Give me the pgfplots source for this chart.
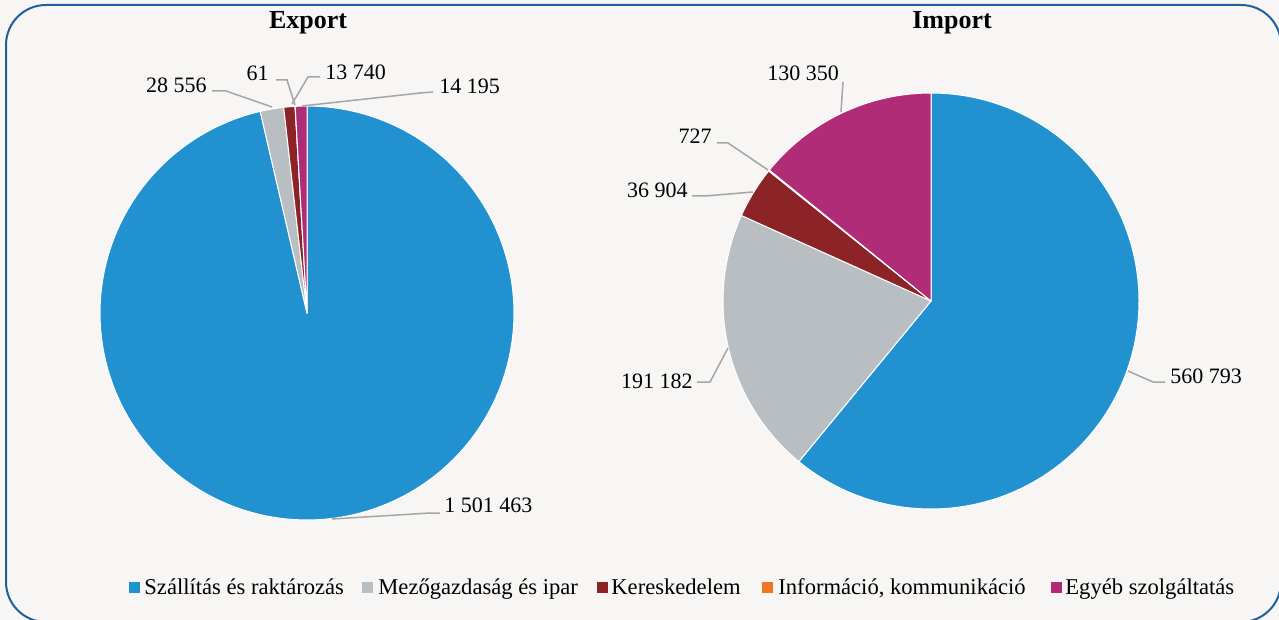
\documentclass[border=0pt]{standalone}
\usepackage{pgfplots}
\pgfplotsset{compat=1.18}
\usepackage{pgfplotstable}
\usepackage{fontspec}
\setmainfont{Liberation Serif}

\definecolor{c0}{HTML}{2191D0}
\definecolor{c1}{HTML}{B9BEC3}
\definecolor{c2}{HTML}{8C2326}
\definecolor{c3}{HTML}{F07524}
\definecolor{c4}{HTML}{B02C76}
\definecolor{bg}{HTML}{F7F6F4}
\definecolor{frame}{HTML}{1F5F9E}
\definecolor{lead}{HTML}{A5A5A5}

\pgfplotstableread{
value
1501463
28556
13740
61
14195
}\exportdata

\pgfplotstableread{
value
560793
191182
36904
727
130350
}\importdata

\newcommand\drawpie[1]{%
  \pgfplotstablegetrowsof{#1}%
  \pgfmathtruncatemacro\lastrow{\pgfplotsretval-1}%
  \def\total{0}%
  \pgfplotsforeachungrouped \i in {0,...,\lastrow}{%
    \pgfplotstablegetelem{\i}{value}\of{#1}%
    \edef\total{\fpeval{\total+\pgfplotsretval}}%
  }%
  \def\cum{0}%
  \pgfplotsforeachungrouped \i in {0,...,\lastrow}{%
    \pgfplotstablegetelem{\i}{value}\of{#1}%
    \edef\ta{\fpeval{round(90-360*\cum/\total,5)}}%
    \edef\cum{\fpeval{\cum+\pgfplotsretval}}%
    \edef\tb{\fpeval{round(90-360*\cum/\total,5)}}%
    \edef\temp{\noexpand\addplot[fill=c\i, draw=white, line width=0.5pt, line join=round, domain=\tb:\ta, samples=150, variable=\noexpand\t] ({cos(\noexpand\t)},{sin(\noexpand\t)}) -- (axis cs:0,0) -- cycle;}%
    \temp
  }%
}

\pgfplotsset{pieaxis/.style={hide axis, scale only axis, xmin=-1, xmax=1, ymin=-1, ymax=1, clip=false, anchor=center}}

\begin{document}
\begin{tikzpicture}
\begin{scope}[x=0.5pt,y=-0.5pt]
\useasboundingbox (0,0) rectangle (1279,620);
\fill[bg] (0,0) rectangle (1279,620);
\draw[frame, line width=1pt, rounded corners=20pt] (6,5) rectangle (1281,622);
\end{scope}

\begin{axis}[pieaxis, width=207pt, height=207pt, at={(153.5pt,-156.5pt)}]
\drawpie{\exportdata}
\end{axis}

\begin{axis}[pieaxis, width=208pt, height=208pt, at={(465.5pt,-150.5pt)}]
\drawpie{\importdata}
\end{axis}

\begin{scope}[x=0.5pt,y=-0.5pt, every node/.style={inner sep=0pt, font=\fontsize{11}{13}\selectfont}]
% titles
\node[font=\fontsize{13}{15}\selectfont\bfseries] at (308,23) {Export};
\node[font=\fontsize{13}{15}\selectfont\bfseries] at (952,23) {Import};
% export leaders
\draw[lead, line width=0.75pt] (332,519) -- (430,513) -- (440,513);
\node[anchor=west] at (444,505) {1~501~463};
\draw[lead, line width=0.75pt] (212,91) -- (226,91) -- (272,107);
\node[anchor=east] at (207,85) {28~556};
\draw[lead, line width=0.75pt] (276,80) -- (287,80) -- (295,105);
\node[anchor=east] at (269,73) {61};
\draw[lead, line width=0.75pt] (320,77) -- (308,77) -- (292,104);
\node[anchor=west] at (325,72) {13~740};
\draw[lead, line width=0.75pt] (302,106) -- (420,93) -- (433,92);
\node[anchor=west] at (439,86) {14~195};
% import leaders
\draw[lead, line width=0.75pt] (1128,371) -- (1153,382) -- (1165,382);
\node[anchor=west] at (1170,376) {560~793};
\draw[lead, line width=0.75pt] (728,348) -- (710,382) -- (697,382);
\node[anchor=east] at (693,381) {191~182};
\draw[lead, line width=0.75pt] (753,192) -- (705,196) -- (692,196);
\node[anchor=east] at (688,190) {36~904};
\draw[lead, line width=0.75pt] (768,170) -- (728,143) -- (717,143);
\node[anchor=east] at (712,136) {727};
\draw[lead, line width=0.75pt] (841,112) -- (843,82);
\node[anchor=center] at (803,73) {130~350};
% legend
\begin{scope}[every node/.style={inner sep=0pt, anchor=base west, font=\fontsize{11.3}{13}\selectfont}]
\fill[c0] (129,582) rectangle (140,593);
\node at (144,594) {Szállítás és raktározás};
\fill[c1] (362,582) rectangle (373,593);
\node at (378,594) {Mezőgazdaság és ipar};
\fill[c2] (597,582) rectangle (608,593);
\node at (611,594) {Kereskedelem};
\fill[c3] (762,582) rectangle (773,593);
\node at (778,594) {Információ, kommunikáció};
\fill[c4] (1051,582) rectangle (1062,593);
\node at (1065,594) {Egyéb szolgáltatás};
\end{scope}
\end{scope}
\end{tikzpicture}
\end{document}
